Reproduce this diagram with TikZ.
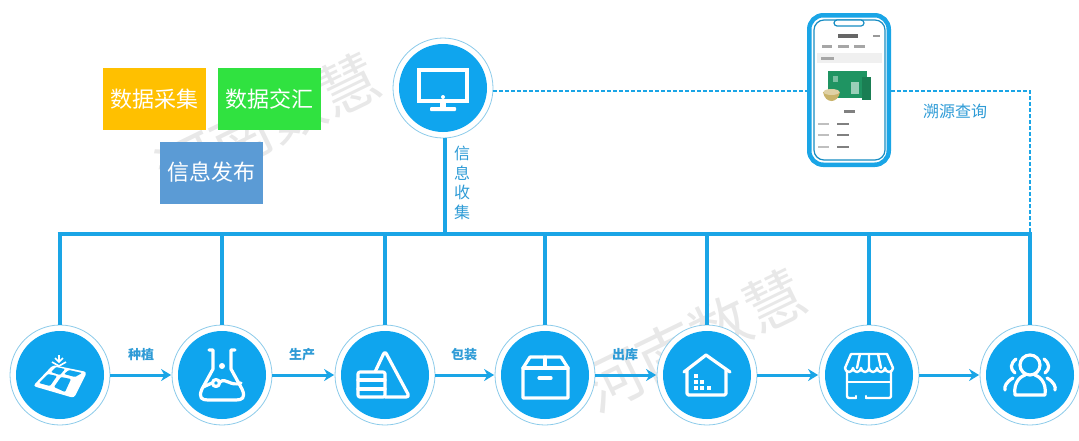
\documentclass[tikz,border=0pt]{standalone}
\usepackage{fontspec}
\setmainfont{Noto Sans CJK SC}
\usetikzlibrary{arrows.meta}
\definecolor{flowblue}{HTML}{0FA5EE}
\definecolor{linkblue}{HTML}{1AA5E6}
\definecolor{ringblue}{HTML}{8CCBEA}
\definecolor{textblue}{HTML}{2E9BD6}
\definecolor{boxgreen}{HTML}{1F9462}
\definecolor{bowlgold}{HTML}{C9B36A}
\tikzset{
  stepnode/.style={circle,draw=ringblue,line width=.8pt,fill=white,minimum size=100pt,inner sep=0pt,
    path picture={\fill[flowblue] (path picture bounding box.center) circle (44pt);}},
  bus/.style={linkblue,line width=3.2pt},
  flow/.style={linkblue,line width=3pt,-{Stealth[length=10pt,width=12pt]},shorten >=.5pt},
  dashlink/.style={linkblue,line width=1.7pt,dash pattern=on 4pt off 2pt},
  tagbox/.style={minimum width=103pt,minimum height=62pt,inner sep=0pt,text=white,font=\fontsize{22}{24}\selectfont},
  steplabel/.style={text=textblue,font=\fontsize{13}{15}\selectfont\bfseries},
  sidelabel/.style={text=textblue,font=\fontsize{16}{18}\selectfont},
  icon/.style={white,line width=3.2pt,line cap=round,line join=round},
  watermark/.style={text=black!9,font=\fontsize{60}{64}\selectfont,rotate=26}
}
\begin{document}
\begin{tikzpicture}[x=1pt,y=-1pt]
  \useasboundingbox (0,0) rectangle (1079,440);
  \node[watermark] (markA) at (268,124) {河南数慧};
  \node[watermark] (markB) at (694,340) {河南数慧};

  \node[tagbox,fill={rgb,255:red,255;green,192;blue,0}] (collect) at (154.5,99) {数据采集};
  \node[tagbox,fill={rgb,255:red,48;green,226;blue,64}] (exchange) at (269.5,99) {数据交汇};
  \node[tagbox,fill={rgb,255:red,91;green,155;blue,213}] (publish) at (211.5,172.5) {信息发布};

  \coordinate (busL) at (57.5,234);
  \coordinate (busR) at (1032,234);
  \coordinate (turn) at (1030,91);
  \draw[bus] (busL)--(busR);

  \node[stepnode] (monitor) at (443,88) {};
  \node[stepnode] (plant) at (60,375) {};
  \node[stepnode] (lab) at (222,375) {};
  \node[stepnode] (stock) at (385,375) {};
  \node[stepnode] (pack) at (545,375) {};
  \node[stepnode] (store) at (707,375) {};
  \node[stepnode] (shop) at (869,375) {};
  \node[stepnode] (people) at (1030,375) {};

  \foreach \n in {plant,lab,stock,pack,store,shop,people}
    \draw[bus] (\n.north)--(\n.north|-busL);
  \draw[bus] ([xshift=2pt]monitor.south)--([xshift=2pt]monitor.south|-busL);

  \draw[flow] (plant)--(lab);
  \draw[flow] (lab)--(stock);
  \draw[flow] (stock)--(pack);
  \draw[flow] (pack)--(store);
  \draw[flow] (store)--(shop);
  \draw[flow] (shop)--(people);

  \node[steplabel] (plantL) at (141,355) {种植};
  \node[steplabel] (labL) at (302,355) {生产};
  \node[steplabel] (stockL) at (464,355) {包装};
  \node[steplabel] (packL) at (625,355) {出库};
  \node[sidelabel,align=center,font=\fontsize{16}{19.5}\selectfont] (gather) at (462,183) {信\\息\\收\\集};
  \node[sidelabel] (query) at (955,111) {溯源查询};

  % phone
  \node[draw=linkblue,line width=4.5pt,fill=white,rounded corners=14pt,minimum width=79.5pt,minimum height=149.5pt,inner sep=0pt] (phone) at (849,90) {};
  \draw[line width=1.2pt,draw=linkblue!85!black,rounded corners=10pt] (814,20) rectangle (885,160);
  \draw[line width=1.2pt,draw=linkblue!85!black,fill=white,rounded corners=3pt] (834,20) rectangle (864,26);
  \fill[black!6] (817,53) rectangle (882,63);
  \fill[black!60] (838,34) rectangle (858,38);
  \fill[black!35] (822,45) rectangle (832,48);
  \fill[black!35] (838,45) rectangle (849,48);
  \fill[black!35] (854,45) rectangle (865,48);
  \fill[black!35] (821,57) rectangle (834,60);
  \fill[black!40] (873,35) rectangle (880,37);
  \fill[black!50] (844,110) rectangle (855,113);
  \foreach \y in {124,135,147} {
    \fill[black!25] (818,\y-1) rectangle (829,\y+1);
    \fill[black!50] (837,\y-1) rectangle (849,\y+1);
  }
  \fill[boxgreen] (828,71) rectangle (867,98);
  \fill[boxgreen!85!black] (862,77) rectangle (871,100);
  \fill[boxgreen!45!white] (851,82) rectangle (859,94);
  \fill[boxgreen!60!white] (833,76) rectangle (838,82);
  \fill[bowlgold] (823,92) .. controls (825,104) and (838,104) .. (840,92) -- cycle;
  \fill[bowlgold!60!white] (831.5,92) ellipse (8pt and 3pt);

  \draw[dashlink] ([yshift=-3pt]monitor.east)--(phone.west|-turn);
  \draw[dashlink] (phone.east|-turn)--(turn)--(turn|-busR);

  % monitor
  \begin{scope}[shift={(monitor.center)}]
    \draw[white,line width=4.5pt] (-24,-18) rectangle (24,13);
    \fill[white] (0,9) circle (2pt);
    \fill[white] (-3,13) rectangle (3,20);
    \fill[white,rounded corners=1pt] (-13,19) rectangle (13,23);
  \end{scope}
  % plant
  \begin{scope}[shift={(plant.center)}]
    \fill[white,rounded corners=3pt] (-27,11)--(-7,-10)--(27,-3)--(14,23)--cycle;
    \fill[flowblue,rounded corners=1pt] (-21,8)--(-12,-1)--(-3,1)--(-10,11)--cycle;
    \fill[flowblue,rounded corners=1pt] (-9,-3)--(-4,-8)--(5,-6)--(0,0)--cycle;
    \fill[flowblue,rounded corners=1pt] (-6,12)--(1,2)--(11,4)--(5,17)--cycle;
    \fill[flowblue,rounded corners=1pt] (4,-1)--(9,-5)--(22,-2)--(15,2)--cycle;
    \draw[white,line width=1.6pt] (-1,-20)--(-1,-14) (-5,-17)--(-1,-13)--(3,-17) (-8,-13)--(-1,-9)--(6,-13);
  \end{scope}
  % flask
  \begin{scope}[shift={(lab.center)}]
    \draw[icon] (-13,-25)--(-9,-25)--(-9,-6)--(-20,14) .. controls (-24,23) and (-20,25) .. (-14,25)--(14,25) .. controls (20,25) and (24,23) .. (20,14)--(9,-6)--(9,-25)--(13,-25);
    \fill[white] (0,-9) circle (3pt);
    \draw[icon] (-6,8) circle (3.5pt);
    \draw[icon] (-19,12)--(-10,8) (-2,7) .. controls (4,2) and (8,12) .. (19,8);
  \end{scope}
  % stock
  \begin{scope}[shift={(stock.center)}]
    \draw[icon] (-10,-3)--(-2,-20) .. controls (-1,-23) and (1,-23) .. (2,-20)--(23,19) .. controls (24,21) and (23,22) .. (21,22)--(0,22);
    \draw[icon,rounded corners=2pt,fill=flowblue] (-27,-3) rectangle (0,22);
    \draw[icon] (-27,5)--(0,5) (-27,14)--(0,14);
  \end{scope}
  % box
  \begin{scope}[shift={(pack.center)}]
    \draw[icon,line join=round] (-15,-18)--(16,-18)--(23,-7)--(23,23)--(-22,23)--(-22,-7)--cycle;
    \draw[icon] (-22,-7)--(23,-7) (0,-18)--(0,-7) (-6,3)--(6,3);
  \end{scope}
  % house
  \begin{scope}[shift={(store.center)}]
    \draw[icon] (-23,-3)--(-1,-20)--(23,-3);
    \draw[icon,rounded corners=1.5pt] (-20,-5)--(-20,20)--(19,20)--(19,-5);
    \foreach \p in {(-11,1),(-11,7),(-11,13),(-5,7),(-5,13),(2,13)}
      \fill[white] \p ++(-2,-2) rectangle ++(4,4);
  \end{scope}
  % shop
  \begin{scope}[shift={(shop.center)}]
    \draw[icon,line width=2.4pt] (-18,-21)--(18,-21)--(24,-7) (-18,-21)--(-24,-7);
    \draw[icon,line width=2.4pt] (-24,-7) arc[start angle=180,end angle=360,radius=4pt] arc[start angle=180,end angle=360,radius=4pt] arc[start angle=180,end angle=360,radius=4pt] arc[start angle=180,end angle=360,radius=4pt] arc[start angle=180,end angle=360,radius=4pt] arc[start angle=180,end angle=360,radius=4pt];
    \draw[icon,line width=2.4pt] (-9,-21)--(-12,-7) (0,-21)--(0,-7) (9,-21)--(12,-7);
    \draw[icon,line width=2.4pt,rounded corners=2pt] (-13,23)--(-22,23)--(-22,-3);
    \draw[icon,line width=2.4pt,rounded corners=2pt] (-3,23)--(22,23)--(22,-3);
    \draw[icon,line width=2.4pt] (-22,7)--(22,7) (-13,23)--(-13,21) (-3,23)--(-3,21);
  \end{scope}
  % people
  \begin{scope}[shift={(people.center)}]
    \draw[icon] (0,-10) circle (10pt);
    \draw[icon] (-15,20) .. controls (-17,6) and (-8,1) .. (-5,0) (5,0) .. controls (8,1) and (17,6) .. (15,20)--(-15,20);
    \draw[icon] (-14,-16) .. controls (-20,-11) and (-20,-6) .. (-15,-2) (-17,3) .. controls (-24,7) and (-26,12) .. (-25,15);
    \draw[icon] (14,-16) .. controls (20,-11) and (20,-6) .. (15,-2) (17,3) .. controls (24,7) and (26,12) .. (25,15);
  \end{scope}
\end{tikzpicture}
\end{document}
